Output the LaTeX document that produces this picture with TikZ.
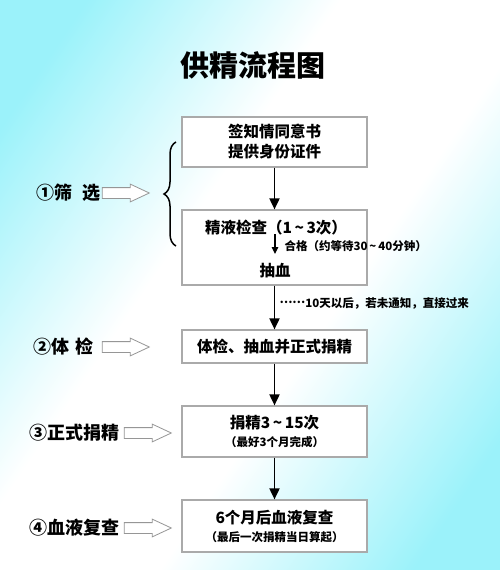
\documentclass[tikz,border=0pt]{standalone}
\usepackage{fontspec}
\setmainfont{Noto Sans CJK SC}
\usetikzlibrary{arrows.meta,positioning,shapes.arrows,decorations.pathreplacing}
\definecolor{bgcyan}{RGB}{155,242,250}
\definecolor{boxgray}{RGB}{170,170,170}
\definecolor{arrowgray}{RGB}{150,150,150}
\pgfdeclareverticalshading{bgband}{100bp}{color(0bp)=(bgcyan); color(22bp)=(bgcyan);
  color(42bp)=(white); color(58bp)=(white); color(78bp)=(bgcyan); color(100bp)=(bgcyan)}
\tikzset{
  flowbox/.style={rectangle, draw=boxgray, fill=white, line width=1.2pt,
                  minimum width=185pt, inner sep=0pt, align=center,
                  font=\fontsize{15.5}{20}\selectfont\bfseries},
  flowarrow/.style={-{Triangle[length=11pt,width=10pt]}, line width=1.8pt, black},
  smallarrow/.style={-{Triangle[length=7pt,width=6.5pt]}, line width=1.2pt, black},
  hollowarrow/.style={single arrow, draw=arrowgray, fill=white, line width=0.8pt,
                      minimum height=47pt, inner xsep=0pt, inner ysep=5pt,
                      single arrow head extend=3.5pt, single arrow tip angle=50},
  steplabel/.style={anchor=west, font=\fontsize{18}{20}\selectfont\bfseries},
  notetext/.style={font=\fontsize{11.5}{14}\selectfont\bfseries},
  bracestyle/.style={decorate, decoration={brace, amplitude=12pt}, line width=1.5pt},
}
\newcommand{\sml}{\fontsize{11.5}{14}\selectfont}
\newcommand{\tld}{\,\textasciitilde\,}

\begin{document}
\begin{tikzpicture}[x=1pt, y=-1pt]
  \useasboundingbox (0,0) rectangle (500,570);
  \shade[shading=bgband, shading angle=56] (0,0) rectangle (500,570);

  \node[font=\fontsize{29}{30}\selectfont\bfseries] (title) at (253,65) {供精流程图};

  % flow boxes
  \node[flowbox, minimum height=50pt] (consent) at (274.5,142)
    {签知情同意书\\提供身份证件};
  \node[flowbox, minimum height=75pt] (semen) at (274.5,247.5) {};
  \node[flowbox, minimum height=33pt] (exam) at (274.5,346.5) {体检、抽血并正式捐精};
  \node[flowbox, minimum height=51pt] (donate) at (274.5,431.5)
    {捐精3\tld 15次\\[-2pt]{\sml （最好3个月完成）}};
  \node[flowbox, minimum height=52pt] (recheck) at (274.5,526)
    {6个月后血液复查\\[-2pt]{\sml （最后一次捐精当日算起）}};

  % inside the semen box
  \node[font=\fontsize{15.5}{20}\selectfont\bfseries] (semtitle) at (276,228)
    {精液检查（1\tld 3次）};
  \node[notetext, anchor=west] (pass) at (281,246) {合格（约等待30\tld 40分钟）};
  \node[font=\fontsize{15.5}{20}\selectfont\bfseries] (blood) at (275,271) {抽血};
  \coordinate (passtop) at (275,234);
  \coordinate (passbot) at (275,254);
  \draw[smallarrow] (passtop) -- (passbot);

  % main arrows
  \draw[flowarrow] (consent) -- (semen);
  \draw[flowarrow] (semen) -- (exam);
  \draw[flowarrow] (exam) -- (donate);
  \draw[flowarrow] (donate) -- (recheck);
  \node[notetext, anchor=west] (wait) at (276,303)
    {\raisebox{3.5pt}{……}10天以后，若未通知，直接过来};

  % stage labels
  \node[steplabel] (screen) at (33,193) {①筛\hspace{10pt}选};
  \node[steplabel] (physical) at (30,347) {②体\hspace{6pt}检};
  \node[steplabel] (formal) at (26,433) {③正式捐精};
  \node[steplabel] (review) at (26,528) {④血液复查};

  \node[hollowarrow] (screenarrow) at (120,193) {};
  \node[hollowarrow] (physicalarrow) at (120,347) {};
  \node[hollowarrow] (formalarrow) at (142,433) {};
  \node[hollowarrow] (reviewarrow) at (142,528) {};

  \coordinate (bracebot) at (176,246);
  \coordinate (bracetop) at (176,142);
  \draw[bracestyle] (bracebot) -- (bracetop);
\end{tikzpicture}
\end{document}
